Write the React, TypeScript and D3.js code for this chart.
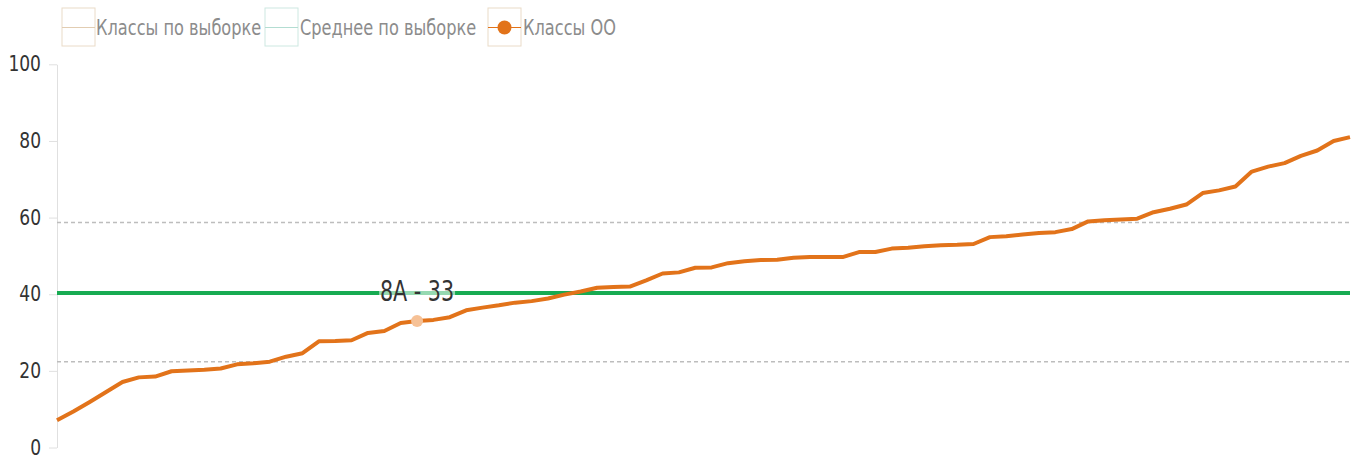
import React, { useEffect, useRef } from "react";
import { axisLeft, line, scaleLinear, select, ScaleLinear } from "d3";

// results of the school's classes, sorted ascending (percent)
const classValues = [
  7.1, 9.4, 11.9, 14.5, 17.1, 18.3, 18.5, 19.9, 20.1, 20.3,
  20.6, 21.7, 22.0, 22.4, 23.7, 24.6, 27.7, 27.8, 28.0, 29.9,
  30.4, 32.5, 33.0, 33.3, 34.0, 35.8, 36.5, 37.1, 37.8, 38.2,
  38.9, 39.9, 40.7, 41.7, 41.9, 42.0, 43.6, 45.4, 45.7, 46.9,
  47.0, 48.1, 48.6, 48.9, 49.0, 49.5, 49.7, 49.7, 49.7, 51.0,
  51.0, 51.9, 52.1, 52.5, 52.8, 52.9, 53.1, 54.9, 55.1, 55.6,
  56.0, 56.2, 57.0, 59.0, 59.3, 59.5, 59.7, 61.4, 62.3, 63.4,
  66.4, 67.1, 68.1, 72.0, 73.3, 74.2, 76.1, 77.5, 80.0, 81.0,
];
const sampleMean = 40.3;
const sampleBounds = [22.4, 58.7];
const highlightIndex = 22;
const highlightLabel = "8А - 33";
const yTicks = [0, 20, 40, 60, 80, 100];
const legendLabels = ["Классы по выборке", "Среднее по выборке", "Классы ОО"];

const FONT = "'DejaVu Sans Condensed', 'DejaVu Sans', sans-serif";
const ORANGE = "#e2731a";
const GREEN = "#17ab52";
const STRETCH = 1.22; // text in the picture looks a bit taller than normal

function AxisLeft({ scale, x }: { scale: ScaleLinear<number, number>; x: number }) {
  const ref = useRef<SVGGElement>(null);

  useEffect(() => {
    if (ref.current) {
      const g = select(ref.current);
      g.call(axisLeft(scale).tickValues(yTicks).tickSize(8).tickPadding(8).tickSizeOuter(0));
      g.select(".domain").attr("stroke", "#e0e0e0");
      g.selectAll(".tick line").attr("stroke", "#e0e0e0");
      g.selectAll(".tick text")
        .attr("fill", "#333")
        .attr("dy", "0.3em")
        .attr("transform", "scale(1,1.15)")
        .style("font-size", "19px")
        .style("font-family", FONT);
    }
  }, [scale]);

  return <g ref={ref} transform={`translate(${x},0)`} />;
}

function Legend() {
  const items = [
    { x: 62, w: 33, border: "#eadbc8", stroke: "#e2cdb2", dot: false },
    { x: 265, w: 33, border: "#cde8e1", stroke: "#b3ddd2", dot: false },
    { x: 488, w: 33, border: "#eadbc8", stroke: ORANGE, dot: true },
  ];
  const textX = [96, 300, 523];
  return (
    <g>
      {items.map((it, i) => (
        <g key={`legend-${i}`}>
          <rect x={it.x} y={8} width={it.w} height={38} fill="none" stroke={it.border} />
          <line x1={it.x} x2={it.x + it.w} y1={27.5} y2={27.5} stroke={it.stroke} strokeWidth={1.2} />
          {it.dot && <circle cx={it.x + it.w / 2} cy={27.5} r={7} fill={ORANGE} />}
          <text
            transform={`translate(${textX[i]},35) scale(1,${STRETCH})`}
            fill="#8c8c8c"
            fontSize={18}
            fontFamily={FONT}
          >
            {legendLabels[i]}
          </text>
        </g>
      ))}
    </g>
  );
}

export default function App() {
  const width = 1360;
  const height = 459;
  const left = 57;
  const right = 1350;

  const x = scaleLinear().domain([0, classValues.length - 1]).range([left, right]);
  const y = scaleLinear().domain([0, 100]).range([447.5, 64.3]);

  const path = line<number>()
    .x((_, i) => x(i))
    .y((d) => y(d))(classValues);

  const hx = x(highlightIndex);
  const hy = y(classValues[highlightIndex]);

  return (
    <svg
      width={width}
      height={height}
      style={{ position: "absolute", left: 0, top: 0, background: "#fff" }}
    >
      <Legend />
      <AxisLeft scale={y} x={left} />
      {sampleBounds.map((b) => (
        <line
          key={`bound-${b}`}
          x1={left}
          x2={right}
          y1={y(b)}
          y2={y(b)}
          stroke="#bdbdbd"
          strokeWidth={1.5}
          strokeDasharray="4,3"
        />
      ))}
      <line x1={left} x2={right} y1={y(sampleMean)} y2={y(sampleMean)} stroke={GREEN} strokeWidth={4} />
      <path d={path ?? ""} fill="none" stroke={ORANGE} strokeWidth={4} strokeLinejoin="round" />
      <circle cx={hx} cy={hy} r={6} fill="#f6c196" />
      <rect x={hx - 38} y={hy - 43} width={76} height={28} fill="#fff" opacity={0.55} />
      <text
        transform={`translate(${hx},${hy - 20}) scale(1,${STRETCH})`}
        textAnchor="middle"
        fill="#333"
        fontSize={23}
        fontFamily={FONT}
      >
        {highlightLabel}
      </text>
    </svg>
  );
}
